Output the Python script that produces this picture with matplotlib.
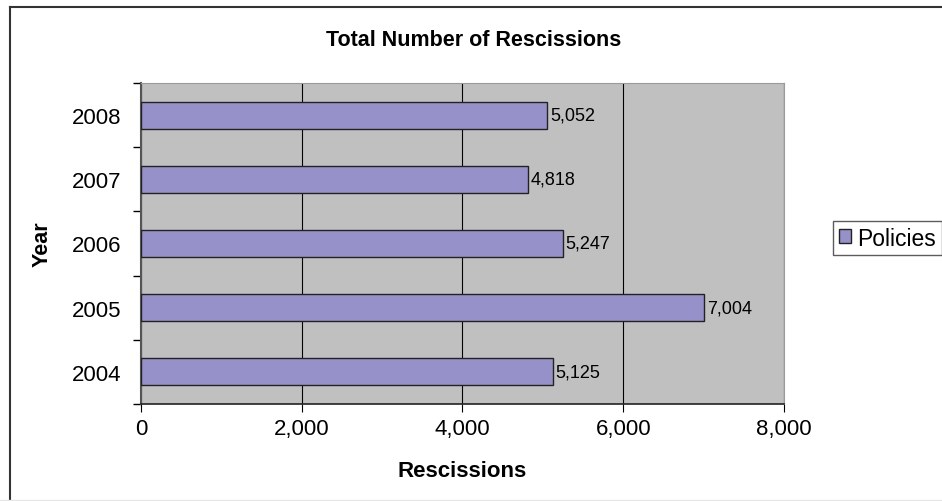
import matplotlib
matplotlib.use("Agg")
import matplotlib.pyplot as plt
from matplotlib.lines import Line2D
from matplotlib.ticker import FuncFormatter, FixedLocator

plt.rcParams['font.family'] = ['Liberation Sans', 'DejaVu Sans']

years = ['2004', '2005', '2006', '2007', '2008']
policies = [5125, 7004, 5247, 4818, 5052]
x_ticks = [0, 2000, 4000, 6000, 8000]

bar_color = '#9691C9'
plot_bg = '#C0C0C0'
W, H = 942, 502

fig = plt.figure(figsize=(W / 100, H / 100), dpi=100)
ax = fig.add_axes([141 / W, 1 - 405 / H, 643 / W, 321 / H])
ax.set_facecolor(plot_bg)

pos = list(range(len(years)))
bars = ax.barh(pos, policies, height=0.42, color=bar_color,
               edgecolor='#222222', linewidth=1.0, label='Policies', zorder=3)

for rect, val in zip(bars, policies):
    ax.text(rect.get_width() + 35, rect.get_y() + rect.get_height() / 2,
            f'{val:,}', va='center', ha='left', fontsize=13, zorder=4)

ax.set_xlim(0, 8000)
ax.set_ylim(-0.5, len(years) - 0.5)
ax.xaxis.set_major_locator(FixedLocator(x_ticks))
ax.xaxis.set_major_formatter(FuncFormatter(lambda v, p: f'{int(v):,}'))
ax.grid(axis='x', color='black', linewidth=0.8, zorder=1)

# category labels centred, tick marks between categories
ax.set_yticks(pos)
ax.set_yticklabels(years, fontsize=16)
ax.set_yticks([p - 0.5 for p in pos] + [len(years) - 0.5], minor=True)
ax.tick_params(axis='y', which='major', length=0, pad=14)
ax.tick_params(axis='y', which='minor', length=6, width=1, color='black')
ax.tick_params(axis='x', labelsize=16, length=6, width=0.8, pad=4)

for side in ['top', 'right']:
    ax.spines[side].set_color('#9A9A9A')
    ax.spines[side].set_linewidth(0.8)
ax.spines['left'].set_color('#555555')
ax.spines['left'].set_linewidth(1.5)
ax.spines['bottom'].set_color('#222222')
ax.spines['bottom'].set_linewidth(1.2)

ax.set_xlabel('Rescissions', fontsize=16, fontweight='bold', labelpad=15)
ax.set_ylabel('Year', fontsize=15.5, fontweight='bold', labelpad=14)
fig.text(326 / W, 1 - 46 / H, 'Total Number of Rescissions', fontsize=15.5,
         fontweight='bold', ha='left', va='baseline')

leg = fig.legend(handles=[bars], labels=['Policies'], loc='center left',
                 bbox_to_anchor=(833 / W, 1 - 239 / H), fontsize=16.5,
                 frameon=True, fancybox=False, edgecolor='#333333',
                 handlelength=0.55, handleheight=0.55, handletextpad=0.25,
                 borderpad=0.25, borderaxespad=0)
leg.get_frame().set_linewidth(1.0)

# chart border: dark top and left edges, faint bottom edge
fig.lines.append(Line2D([10 / W, 10 / W], [0, 1 - 8 / H], transform=fig.transFigure,
                        color='#333333', linewidth=1.5))
fig.lines.append(Line2D([10 / W, 1], [1 - 8 / H, 1 - 8 / H], transform=fig.transFigure,
                        color='#333333', linewidth=1.5))
fig.lines.append(Line2D([0, 1], [1 / H, 1 / H], transform=fig.transFigure,
                        color='#E6E6E6', linewidth=1.0))

fig.savefig('out.png', dpi=100)
